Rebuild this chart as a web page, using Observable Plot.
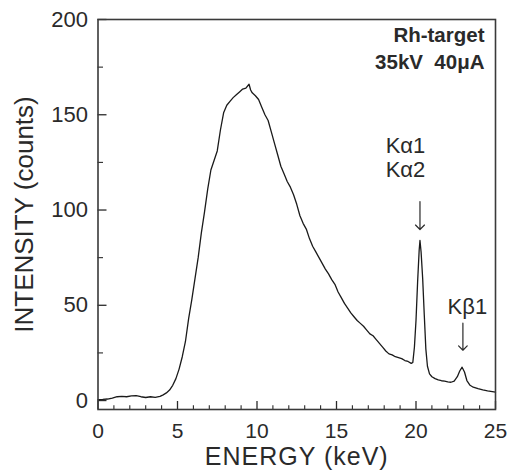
<!DOCTYPE html>
<html>
<head>
<meta charset="utf-8">
<script src="https://cdn.jsdelivr.net/npm/d3@7"></script>
<script src="https://cdn.jsdelivr.net/npm/@observablehq/plot@0.6"></script>
<style>
  html, body { margin: 0; padding: 0; background: #fff; }
  #chart { width: 514px; height: 472px; }
</style>
</head>
<body>
<div id="chart"></div>
<script>
// Spectrum (energy in keV, intensity in counts)
const energy = [0, 0.3, 0.6, 0.9, 1.2, 1.5, 1.8, 2.1, 2.4, 2.7, 3.0, 3.3, 3.6, 3.9, 4.1, 4.3, 4.5, 4.7, 4.9,
  5.1, 5.3, 5.5, 5.7, 5.9, 6.1, 6.3, 6.5, 6.7, 6.9, 7.1, 7.3, 7.5, 7.7, 7.9, 8.1, 8.3, 8.5, 8.7, 8.9,
  9.1, 9.3, 9.5, 9.6, 9.7, 9.9, 10.1, 10.3, 10.5, 10.7, 10.9, 11.1, 11.3, 11.5, 11.7, 11.9, 12.1, 12.3,
  12.5, 12.7, 12.9, 13.1, 13.3, 13.5, 13.7, 13.9, 14.1, 14.3, 14.5, 14.7, 14.9, 15.1, 15.3, 15.5, 15.7,
  15.9, 16.1, 16.3, 16.5, 16.7, 16.9, 17.1, 17.3, 17.5, 17.7, 17.9, 18.1, 18.3, 18.5, 18.7, 18.9, 19.1,
  19.3, 19.5, 19.7, 19.8, 19.9, 20.0, 20.1, 20.2, 20.25, 20.32, 20.42, 20.52, 20.62, 20.72, 20.85, 21.0,
  21.2, 21.4, 21.6, 21.8, 22.0, 22.2, 22.4, 22.6, 22.75, 22.9, 23.05, 23.2, 23.4, 23.6, 23.9, 24.2, 24.5,
  24.8, 25.0];
const counts = [0.5, 0.6, 0.8, 1.3, 2.0, 2.2, 2.0, 2.4, 2.6, 2.0, 1.6, 2.0, 1.7, 2.2, 3.0, 4.0, 5.5, 8.0, 11.5,
  16.5, 23, 31, 43, 53, 64, 75, 88, 99, 111, 121, 126, 131, 142, 151, 155, 157, 159, 160.5, 162,
  163.5, 164, 166, 163, 161.5, 160, 158, 154, 150, 147, 141, 135, 129, 123, 119, 115, 112, 108,
  103, 97, 93, 90, 85, 81, 78, 75, 72, 69, 66.5, 63.5, 61, 57, 54, 51, 48.5,
  46, 44, 42, 40.5, 39, 37, 35, 34, 32, 30, 28, 26, 24.5, 24, 23, 22.5, 22,
  21, 20.5, 19.5, 20, 28, 42, 62, 79, 84, 78, 64, 45, 27, 18, 14, 12.5,
  11.5, 10.8, 10.4, 10.2, 9.8, 9.6, 10.2, 12.5, 15.5, 17.5, 15, 10.5, 8, 7, 6.2, 5.6, 5.1,
  4.7, 4.4];

// Peak annotations
const peakLabels = ["Kα1\nKα2", "Kβ1"];
const peakEnergy = [20.25, 22.95];
const peakCounts = [84, 17.5];

// Axis ticks
const xMajor = [0, 5, 10, 15, 20, 25];
const xMinor = [1, 2, 3, 4, 6, 7, 8, 9, 11, 12, 13, 14, 16, 17, 18, 19, 21, 22, 23, 24];
const yMajor = [0, 50, 100, 150, 200];
const yMinor = [25, 75, 125, 175];

// Texts
const xTitle = "ENERGY (keV)";
const yTitle = "INTENSITY (counts)";
const noteLines = ["Rh-target", "35kV  40μA"];

const spectrum = energy.map((e, i) => ({energy: e, counts: counts[i]}));
const peaks = peakLabels.map((l, i) => ({label: l, energy: peakEnergy[i], counts: peakCounts[i]}));

const W = 514, H = 472;
const mL = 97.5, mR = 19, mT = 19, mB = 63;
const yDomain = [-4.7, 200], xDomain = [0, 25];
const unitY = (yDomain[1] - yDomain[0]) / (H - mT - mB); // data units per px
const unitX = (xDomain[1] - xDomain[0]) / (W - mL - mR);
const ink = "#2a2a2a";
const font = "'Liberation Sans', Arial, Helvetica, sans-serif";

const plot = Plot.plot({
  width: W,
  height: H,
  marginLeft: mL,
  marginRight: mR,
  marginTop: mT,
  marginBottom: mB,
  style: {fontFamily: font, color: ink, background: "#fff"},
  x: {domain: xDomain},
  y: {domain: yDomain},
  marks: [
    // inward ticks
    Plot.ruleX(xMajor, {x: d => d, y1: yDomain[0], y2: yDomain[0] + 8 * unitY, stroke: ink, strokeWidth: 1.3}),
    Plot.ruleX(xMinor, {x: d => d, y1: yDomain[0], y2: yDomain[0] + 3.8 * unitY, stroke: ink, strokeWidth: 1.1}),
    Plot.ruleY(yMajor, {y: d => d, x1: xDomain[0], x2: xDomain[0] + 9 * unitX, stroke: ink, strokeWidth: 1.3}),
    Plot.ruleY(yMinor, {y: d => d, x1: xDomain[0], x2: xDomain[0] + 5.5 * unitX, stroke: ink, strokeWidth: 1.1}),
    Plot.axisX({ticks: xMajor, tickSize: 0, tickPadding: 14, fontSize: 21, label: null, tickFormat: d => d, fill: ink}),
    Plot.axisY({ticks: yMajor, tickSize: 0, tickPadding: 10, fontSize: 22, label: null, tickFormat: d => d, fill: ink}),
    Plot.text([xTitle], {frameAnchor: "bottom", dy: 47, textAnchor: "middle", lineAnchor: "middle", fontSize: 25, fill: ink}),
    Plot.text([yTitle], {frameAnchor: "left", dx: -73, rotate: -90, textAnchor: "middle", lineAnchor: "middle", fontSize: 26, fill: ink}),
    Plot.text([noteLines[0]], {frameAnchor: "top-right", dx: -11, dy: 8, textAnchor: "end", lineAnchor: "top", fontSize: 20.5, fontWeight: "bold", fill: ink}),
    Plot.text([noteLines[1]], {frameAnchor: "top-right", dx: -11, dy: 35, textAnchor: "end", lineAnchor: "top", fontSize: 20.5, fontWeight: "bold", fill: ink}),
    // spectrum
    Plot.line(spectrum, {x: "energy", y: "counts", stroke: "#1a1a1a", strokeWidth: 1.3, curve: "linear"}),
    // peak labels and arrows
    Plot.text(peaks.slice(0, 1), {x: "energy", y: "counts", text: "label", dx: -14.5, dy: -83, lineAnchor: "middle", lineHeight: 1.08, fontSize: 22, fill: ink}),
    Plot.text(peaks.slice(1), {x: "energy", y: "counts", text: "label", dx: 4.5, dy: -60, lineAnchor: "middle", fontSize: 22, fill: ink}),
    Plot.vector(peaks.slice(0, 1), {x: "energy", y: "counts", rotate: 180, anchor: "end", length: 28, dy: -11, r: 2.8, stroke: ink, strokeWidth: 1.2}),
    Plot.vector(peaks.slice(1), {x: "energy", y: "counts", rotate: 180, anchor: "end", length: 27, dy: -17, r: 2.8, stroke: ink, strokeWidth: 1.2}),
    Plot.frame({stroke: "#3a3a3a", strokeWidth: 1.6})
  ]
});

d3.select(plot).selectAll("text")
  .filter(function () { return this.textContent === xTitle; })
  .style("letter-spacing", "1px");

document.getElementById("chart").appendChild(plot);
</script>
</body>
</html>
